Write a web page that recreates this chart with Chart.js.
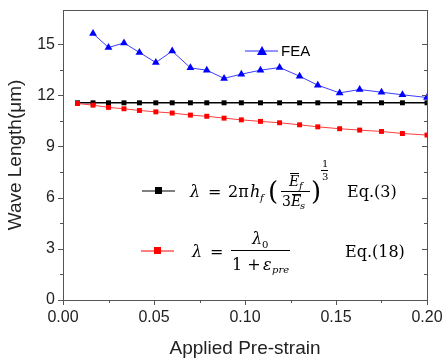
<html>
<head>
    <meta charset="utf-8">
    <title>Wave Length vs Pre-strain</title>
    <script src="https://cdn.jsdelivr.net/npm/chart.js@4.4.1/dist/chart.umd.min.js"></script>
    <style>
        body { margin: 0; background: #fff; }
        #wrap { width: 443px; height: 364px; }
    </style>
</head>
<body>
    <div id="wrap"><canvas id="myChart" width="443" height="364"></canvas></div>
    <script>
        // strain values (x)
        var strain = [0.008, 0.0165, 0.025, 0.0335, 0.042, 0.051, 0.060, 0.070, 0.079, 0.0885,
                      0.098, 0.1085, 0.119, 0.130, 0.140, 0.152, 0.163, 0.175, 0.1865, 0.200];
        var eq3 = [11.56, 11.56, 11.56, 11.56, 11.56, 11.56, 11.56, 11.56, 11.56, 11.56,
                   11.56, 11.56, 11.56, 11.56, 11.56, 11.56, 11.56, 11.56, 11.56, 11.56];
        var eq18 = [11.52, 11.42, 11.29, 11.21, 11.11, 11.03, 10.96, 10.84, 10.77, 10.66,
                    10.56, 10.47, 10.39, 10.27, 10.15, 10.04, 9.96, 9.88, 9.76, 9.67];
        // FEA starts at the second strain value
        var feaStrain = strain.slice(1);
        var fea = [15.62, 14.80, 15.07, 14.51, 13.92, 14.59, 13.61, 13.47, 12.99, 13.24,
                   13.47, 13.63, 13.12, 12.59, 12.14, 12.34, 12.18, 12.03, 11.87];
        var xTicks = [0, 0.05, 0.10, 0.15, 0.20];
        var yTicks = [0, 3, 6, 9, 12, 15];

        function pts(xs, ys) {
            return xs.map(function (x, i) { return { x: x, y: ys[i] }; });
        }

        // frame, ticks (major + minor) and legend with equations
        var decor = {
            id: 'decor',
            afterDraw: function (chart) {
                var c = chart.ctx, a = chart.chartArea;
                var xs = chart.scales.x, ys = chart.scales.y;
                c.save();
                c.strokeStyle = '#555';
                c.lineWidth = 1;
                c.strokeRect(a.left + 0.5, a.top + 0.5, a.right - a.left, a.bottom - a.top);
                c.beginPath();
                for (var v = 0; v <= 15.01; v += 1.5) {
                    var py = Math.round(ys.getPixelForValue(v)) + 0.5;
                    var major = Math.abs(v / 3 - Math.round(v / 3)) < 0.01;
                    var len = major ? 5 : 3;
                    c.moveTo(a.left - len, py); c.lineTo(a.left, py);
                    c.moveTo(a.right - len, py); c.lineTo(a.right, py);
                }
                for (var u = 0; u <= 0.2001; u += 0.025) {
                    var px = Math.round(xs.getPixelForValue(u)) + 0.5;
                    var maj = Math.abs(u / 0.05 - Math.round(u / 0.05)) < 0.01;
                    var l2 = maj ? 5 : 3;
                    c.moveTo(px, a.bottom); c.lineTo(px, a.bottom + l2);
                }
                c.stroke();

                // FEA legend
                c.strokeStyle = 'rgb(40,40,255)';
                c.beginPath(); c.moveTo(245, 51); c.lineTo(278, 51); c.stroke();
                c.fillStyle = 'rgb(0,0,255)';
                c.beginPath(); c.moveTo(262, 46); c.lineTo(267, 55); c.lineTo(257, 55); c.closePath(); c.fill();
                c.fillStyle = '#000';
                c.font = '15px "Liberation Sans", Arial';
                c.textBaseline = 'middle';
                c.fillText('FEA', 281, 52);

                // Eq.(3) legend
                c.strokeStyle = '#000';
                c.beginPath(); c.moveTo(142, 191); c.lineTo(175, 191); c.stroke();
                c.fillRect(155, 187, 7, 7);
                c.textBaseline = 'alphabetic';
                var it = 'italic 16px "DejaVu Serif"', rm = '16px "DejaVu Serif"';
                var sm = 'italic 10px "DejaVu Serif"', smr = '10px "DejaVu Serif"';
                c.font = it; c.fillText('λ', 190, 197);
                c.font = rm; c.fillText('=', 208, 197); c.fillText('2π', 228, 197);
                c.font = it; c.fillText('h', 250, 197);
                c.font = sm; c.fillText('f', 260, 201);
                c.font = '26px "DejaVu Serif"'; c.fillText('(', 268, 200); c.fillText(')', 311, 200);
                c.font = 'italic 14px "DejaVu Serif"'; c.fillText('E', 289, 186);
                c.font = sm; c.fillText('f', 299, 189);
                c.fillRect(290, 173, 9, 1);
                c.fillRect(281, 191, 29, 1);
                c.font = '14px "DejaVu Serif"'; c.fillText('3', 282, 206);
                c.font = 'italic 14px "DejaVu Serif"'; c.fillText('E', 291, 206);
                c.font = sm; c.fillText('s', 300, 209);
                c.fillRect(292, 194, 9, 1);
                c.font = smr; c.fillText('1', 322, 167); c.fillText('3', 322, 180);
                c.fillRect(321, 170, 7, 1);
                c.font = rm; c.fillText('Eq.(3)', 347, 197);

                // Eq.(18) legend
                c.strokeStyle = 'red';
                c.beginPath(); c.moveTo(141, 251); c.lineTo(174, 251); c.stroke();
                c.fillStyle = 'red';
                c.fillRect(154, 247, 7, 7);
                c.fillStyle = '#000';
                c.font = it; c.fillText('λ', 192, 257);
                c.font = rm; c.fillText('=', 210, 257);
                c.font = it; c.fillText('λ', 252, 244);
                c.font = '10px "DejaVu Serif"'; c.fillText('0', 262, 248);
                c.fillRect(231, 250, 59, 1);
                c.font = rm; c.fillText('1 +', 232, 270);
                c.font = it; c.fillText('ε', 263, 270);
                c.font = sm; c.fillText('pre', 272, 273);
                c.font = rm; c.fillText('Eq.(18)', 345, 257);
                c.restore();
            }
        };

        var ctx = document.getElementById('myChart');
        var myChart = new Chart(ctx, {
            type: 'line',
            data: {
                datasets: [
                    {
                        label: 'Eq.(18)',
                        data: pts(strain, eq18),
                        borderColor: 'rgb(255,60,60)',
                        backgroundColor: 'red',
                        borderWidth: 1,
                        pointStyle: 'rect',
                        pointRadius: 3.5,
                        pointBorderWidth: 0,
                        tension: 0
                    },
                    {
                        label: 'Eq.(3)',
                        data: pts(strain, eq3),
                        borderColor: '#000',
                        backgroundColor: '#000',
                        borderWidth: 1.5,
                        pointStyle: 'rect',
                        pointRadius: 3.5,
                        pointBorderWidth: 0,
                        tension: 0
                    },
                    {
                        label: 'FEA',
                        data: pts(feaStrain, fea),
                        borderColor: 'rgb(60,60,255)',
                        backgroundColor: 'rgb(0,0,255)',
                        borderWidth: 1,
                        pointStyle: 'triangle',
                        pointRadius: 4.5,
                        pointBorderWidth: 0,
                        tension: 0
                    }
                ]
            },
            options: {
                responsive: false,
                animation: false,
                layout: { padding: { top: 10, right: 16, left: 0, bottom: 0 } },
                plugins: {
                    legend: { display: false },
                    tooltip: { enabled: false }
                },
                scales: {
                    x: {
                        type: 'linear',
                        min: 0,
                        max: 0.2,
                        grid: { display: false, drawTicks: false },
                        border: { display: false },
                        afterBuildTicks: function (s) { s.ticks = xTicks.map(function (v) { return { value: v }; }); },
                        afterFit: function (s) { s.height = 64; s.paddingLeft = 0; s.paddingRight = 0; },
                        ticks: {
                            color: '#222',
                            padding: 8,
                            maxRotation: 0,
                            font: { family: '"Liberation Sans", Arial', size: 16 },
                            callback: function (v) { return v.toFixed(2); }
                        },
                        title: {
                            display: true,
                            text: 'Applied Pre-strain',
                            color: '#222',
                            padding: { top: 2 },
                            font: { family: '"Liberation Sans", Arial', size: 19 }
                        }
                    },
                    y: {
                        min: 0,
                        max: 17,
                        grid: { display: false, drawTicks: false },
                        border: { display: false },
                        afterBuildTicks: function (s) { s.ticks = yTicks.map(function (v) { return { value: v }; }); },
                        afterFit: function (s) { s.width = 63; s.paddingTop = 0; s.paddingBottom = 0; },
                        ticks: {
                            color: '#222',
                            padding: 8,
                            font: { family: '"Liberation Sans", Arial', size: 16 }
                        },
                        title: {
                            display: true,
                            text: 'Wave Length(μm)',
                            color: '#222',
                            padding: { bottom: 0 },
                            font: { family: '"Liberation Sans", Arial', size: 19 }
                        }
                    }
                }
            },
            plugins: [decor]
        });
    </script>
</body>
</html>
